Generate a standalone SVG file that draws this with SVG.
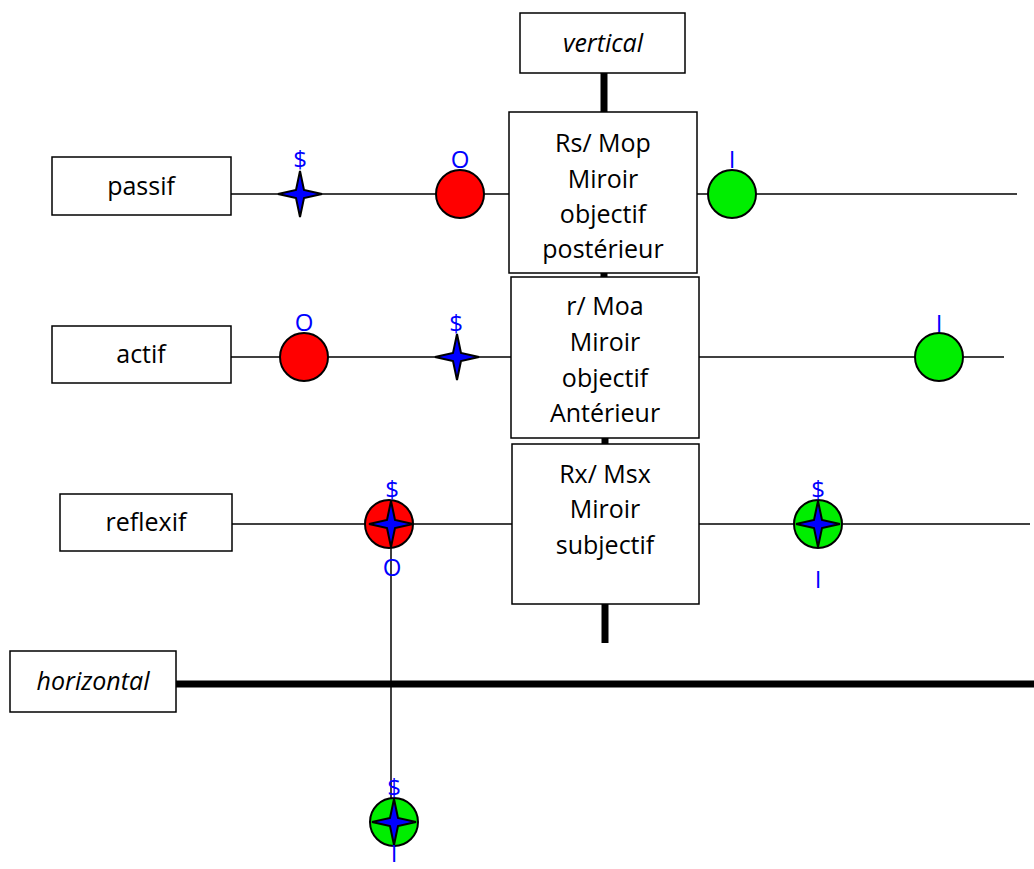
<svg xmlns="http://www.w3.org/2000/svg" width="1034" height="869" viewBox="0 0 1034 869">
<defs>
<style>
.box{fill:#fff;stroke:#000;stroke-width:1.5}
.t{font-family:"Open Sans","Liberation Sans",sans-serif;font-size:25px;fill:#000;text-anchor:middle}
.i{font-style:italic}
.lbl{font-family:"Open Sans","Liberation Sans",sans-serif;font-size:24px;fill:#0000ff;text-anchor:middle}
.ln{stroke:#000;stroke-width:1.5;fill:none}
.thick{stroke:#000;stroke-width:7;fill:none}
.red{fill:#ff0000;stroke:#000;stroke-width:2}
.green{fill:#00ee00;stroke:#000;stroke-width:2}
.star{fill:#0000ff;stroke:#000;stroke-width:2;stroke-linejoin:miter}
</style>
<path id="star" d="M0,-23 L4,-4 L22,0 L4,4 L0,23 L-4,4 L-22,0 L-4,-4 Z"/>
</defs>
<g id="connectors">
<line class="thick" x1="604" y1="73" x2="604" y2="112"/>
<line class="thick" x1="604" y1="273" x2="604" y2="277"/>
<line class="thick" x1="605" y1="438" x2="605" y2="444"/>
<line class="thick" x1="605" y1="604" x2="605" y2="643"/>
<line class="thick" x1="176" y1="684" x2="1034" y2="684"/>
<line class="ln" x1="231" y1="194" x2="509" y2="194"/>
<line class="ln" x1="697" y1="194" x2="1017" y2="194"/>
<line class="ln" x1="231" y1="357" x2="511" y2="357"/>
<line class="ln" x1="699" y1="357" x2="1004" y2="357"/>
<line class="ln" x1="232" y1="524" x2="512" y2="524"/>
<line class="ln" x1="699" y1="524" x2="1030" y2="524"/>
<line class="ln" x1="391" y1="524" x2="391" y2="800"/>
</g>
<g id="vertical"><rect class="box" x="520" y="13" width="165" height="60"/><text class="t i" x="603" y="52">vertical</text></g>
<g id="horizontal"><rect class="box" x="10" y="651" width="166" height="61"/><text class="t i" x="93" y="690">horizontal</text></g>
<g id="passif"><rect class="box" x="52" y="157" width="179" height="58"/><text class="t" x="141" y="195">passif</text></g>
<g id="actif"><rect class="box" x="52" y="326" width="179" height="57"/><text class="t" x="141" y="363">actif</text></g>
<g id="reflexif"><rect class="box" x="60" y="494" width="172" height="57"/><text class="t" x="146" y="531">reflexif</text></g>
<g id="rs"><rect class="box" x="509" y="112" width="188" height="161"/>
<text class="t" x="603" y="152">Rs/ Mop</text><text class="t" x="603" y="188">Miroir</text><text class="t" x="603" y="223">objectif</text><text class="t" x="603" y="258">postérieur</text></g>
<g id="r"><rect class="box" x="511" y="277" width="188" height="161"/>
<text class="t" x="605" y="315">r/ Moa</text><text class="t" x="605" y="351">Miroir</text><text class="t" x="605" y="387">objectif</text><text class="t" x="605" y="422">Antérieur</text></g>
<g id="rx"><rect class="box" x="512" y="444" width="187" height="160"/>
<text class="t" x="605" y="483">Rx/ Msx</text><text class="t" x="605" y="518">Miroir</text><text class="t" x="605" y="554">subjectif</text></g>
<g id="passif-s"><use href="#star" class="star" x="300" y="194"/><text class="lbl" x="300" y="168">$</text></g>
<g id="passif-o"><circle class="red" cx="460" cy="194" r="24"/><text class="lbl" x="460" y="168">O</text></g>
<g id="passif-i"><circle class="green" cx="732" cy="194" r="24"/><text class="lbl" x="732" y="168">I</text></g>
<g id="actif-o"><circle class="red" cx="304" cy="357" r="24"/><text class="lbl" x="304" y="331">O</text></g>
<g id="actif-s"><use href="#star" class="star" x="457" y="357"/><text class="lbl" x="456" y="332">$</text></g>
<g id="actif-i"><circle class="green" cx="939" cy="357" r="24"/><text class="lbl" x="939" y="332">I</text></g>
<g id="reflexif-so"><circle class="red" cx="389" cy="524" r="24"/><use href="#star" class="star" x="391" y="524"/><text class="lbl" x="392" y="498">$</text><text class="lbl" x="392" y="576">O</text></g>
<g id="reflexif-si"><circle class="green" cx="818" cy="524" r="24"/><use href="#star" class="star" x="818" y="524"/><text class="lbl" x="818" y="498">$</text><text class="lbl" x="818" y="588">I</text></g>
<g id="bottom-si"><circle class="green" cx="394" cy="822" r="24"/><use href="#star" class="star" x="394" y="822"/><text class="lbl" x="394" y="796">$</text><text class="lbl" x="394" y="862">I</text></g>
</svg>
